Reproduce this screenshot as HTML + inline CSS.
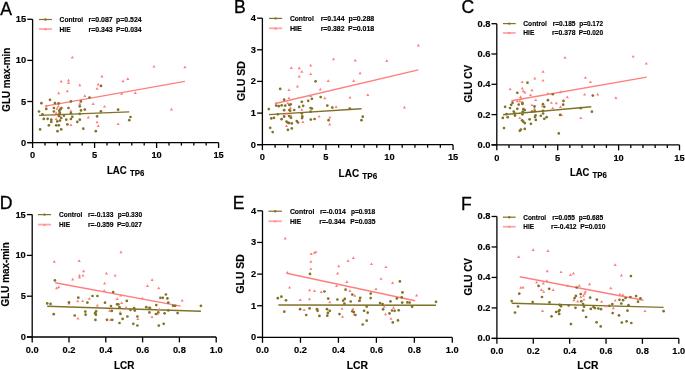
<!DOCTYPE html>
<html><head><meta charset="utf-8"><title>Scatter plots</title>
<style>
html,body{margin:0;padding:0;background:#fff;width:685px;height:369px;overflow:hidden}
svg{display:block;will-change:transform;filter:blur(0.35px)}
text{font-family:"Liberation Sans", sans-serif;fill:#000}
.b{font-weight:bold;stroke:#000;stroke-width:0.15px}
.r{font-weight:normal;stroke:#000;stroke-width:0.3px}
.ax{stroke:#000;stroke-width:1.3;fill:none}
circle{fill:#807227}
</style></head>
<body>
<svg width="685" height="369" viewBox="0 0 685 369">
<rect width="685" height="369" fill="#fff"/>
<g id="pA"><text x="0.2" y="14.6" font-size="17.6" class="r">A</text>
<path d="M32.6 19.3V142.6" class="ax"/>
<path d="M27.3 19.3H32.6" class="ax"/>
<text transform="translate(26.2 22.3) scale(0.95 1.0)" text-anchor="end" font-size="9.8" class="b">15</text>
<path d="M27.3 60.4H32.6" class="ax"/>
<text transform="translate(26.2 63.4) scale(0.95 1.0)" text-anchor="end" font-size="9.8" class="b">10</text>
<path d="M27.3 101.5H32.6" class="ax"/>
<text transform="translate(26.2 104.5) scale(0.95 1.0)" text-anchor="end" font-size="9.8" class="b">5</text>
<path d="M27.3 142.6H32.6" class="ax"/>
<text transform="translate(26.2 145.6) scale(0.95 1.0)" text-anchor="end" font-size="9.8" class="b">0</text>
<path d="M27.3 142.6H218.6" class="ax"/>
<path d="M32.6 142.6V148" class="ax"/>
<text transform="translate(32.6 158.2) scale(0.95 1.0)" text-anchor="middle" font-size="9.8" class="b">0</text>
<path d="M94.6 142.6V148" class="ax"/>
<text transform="translate(94.6 158.2) scale(0.95 1.0)" text-anchor="middle" font-size="9.8" class="b">5</text>
<path d="M156.6 142.6V148" class="ax"/>
<text transform="translate(156.6 158.2) scale(0.95 1.0)" text-anchor="middle" font-size="9.8" class="b">10</text>
<path d="M218.6 142.6V148" class="ax"/>
<text transform="translate(218.6 158.2) scale(0.95 1.0)" text-anchor="middle" font-size="9.8" class="b">15</text>
<path d="M45 142.6V145.6" class="ax"/>
<path d="M57.4 142.6V145.6" class="ax"/>
<path d="M69.8 142.6V145.6" class="ax"/>
<path d="M82.2 142.6V145.6" class="ax"/>
<path d="M107 142.6V145.6" class="ax"/>
<path d="M119.4 142.6V145.6" class="ax"/>
<path d="M131.8 142.6V145.6" class="ax"/>
<path d="M144.2 142.6V145.6" class="ax"/>
<path d="M169 142.6V145.6" class="ax"/>
<path d="M181.4 142.6V145.6" class="ax"/>
<path d="M193.8 142.6V145.6" class="ax"/>
<path d="M206.2 142.6V145.6" class="ax"/>
<text transform="translate(9.7 79.7) rotate(-90)" x="0" y="0" text-anchor="middle" font-size="10.6" class="b" textLength="64" lengthAdjust="spacingAndGlyphs">GLU max-min</text>
<text x="106.9" y="174.1" font-size="10.2" class="b" textLength="19.8" lengthAdjust="spacingAndGlyphs">LAC</text>
<text x="130" y="175.9" font-size="8.6" class="b" textLength="14.3" lengthAdjust="spacingAndGlyphs">TP6</text>
<path d="M39 19.5H51.9" stroke="#807227" stroke-width="1.2"/>
<circle cx="45.45" cy="19.5" r="1.2" fill="#807227"/>
<path d="M39 29H51.9" stroke="#ffa6ab" stroke-width="1.8"/>
<path d="M45.45 27.8L46.82 30.14L44.09 30.14Z" fill="#ff7f7f"/>
<text x="59.6" y="22.3" font-size="7.1" class="b" textLength="23.6" lengthAdjust="spacingAndGlyphs">Control</text>
<text x="88.5" y="22.3" font-size="7.1" class="b" textLength="24.2" lengthAdjust="spacingAndGlyphs">r=0.087</text>
<text x="116.1" y="22.3" font-size="7.1" class="b" textLength="25.5" lengthAdjust="spacingAndGlyphs">p=0.524</text>
<text x="59.6" y="31.5" font-size="7.1" class="b" textLength="11" lengthAdjust="spacingAndGlyphs">HIE</text>
<text x="88.5" y="31.5" font-size="7.1" class="b" textLength="24.2" lengthAdjust="spacingAndGlyphs">r=0.343</text>
<text x="116.1" y="31.5" font-size="7.1" class="b" textLength="25.5" lengthAdjust="spacingAndGlyphs">P=0.034</text>
<path d="M39.1 115.4L129.3 111.9" stroke="#807227" stroke-width="1.45"/>
<path d="M45.5 106.1L184.9 81.4" stroke="#ff7f7f" stroke-width="1.45"/>
<path d="M72.3 55.8L73.88 58.5L70.72 58.5ZM61.2 79.8L62.78 82.5L59.62 82.5ZM68.5 78.8L70.08 81.5L66.92 81.5ZM68.5 81.4L70.08 84.1L66.92 84.1ZM79.8 83.6L81.38 86.3L78.22 86.3ZM101.9 74.8L103.48 77.5L100.33 77.5ZM98.2 82.7L99.78 85.4L96.62 85.4ZM97.1 87.1L98.67 89.8L95.52 89.8ZM67.3 89.5L68.88 92.2L65.72 92.2ZM58.7 91.5L60.28 94.2L57.12 94.2ZM123 79.5L124.58 82.2L121.42 82.2ZM127.8 77.3L129.38 80L126.22 80ZM154 64.9L155.57 67.6L152.43 67.6ZM184.9 65.6L186.47 68.3L183.33 68.3ZM135.3 91.2L136.88 93.9L133.73 93.9ZM84.8 94.3L86.38 97L83.22 97ZM121.7 92.1L123.28 94.8L120.12 94.8ZM46.3 104.3L47.88 107L44.72 107ZM58.3 104.8L59.88 107.5L56.72 107.5ZM57 107L58.58 109.7L55.42 109.7ZM79.8 102.3L81.38 105L78.22 105ZM93.2 102.3L94.78 105L91.62 105ZM104.5 104.9L106.08 107.6L102.92 107.6ZM56.2 111.4L57.78 114.1L54.62 114.1ZM53.9 113.3L55.48 116L52.32 116ZM60.3 114.7L61.88 117.4L58.72 117.4ZM56.2 117.3L57.78 120L54.62 120ZM70.9 109.2L72.48 111.9L69.33 111.9ZM88.3 115.8L89.88 118.5L86.72 118.5ZM97.1 120.6L98.67 123.3L95.52 123.3ZM98.3 124.3L99.88 127L96.72 127ZM70.9 123.3L72.48 126L69.33 126ZM118.1 122.4L119.67 125.1L116.52 125.1ZM171.5 107.7L173.07 110.4L169.93 110.4Z" fill="#ff7f7f"/>
<circle cx="50" cy="99.8" r="1.35"/>
<circle cx="41.4" cy="103.2" r="1.35"/>
<circle cx="54.9" cy="103.1" r="1.35"/>
<circle cx="58.6" cy="103.4" r="1.35"/>
<circle cx="70.9" cy="101.4" r="1.35"/>
<circle cx="80.9" cy="101.4" r="1.35"/>
<circle cx="89.5" cy="97.5" r="1.35"/>
<circle cx="46.3" cy="108.9" r="1.35"/>
<circle cx="53.9" cy="108" r="1.35"/>
<circle cx="61.4" cy="108" r="1.35"/>
<circle cx="68.5" cy="108" r="1.35"/>
<circle cx="79.8" cy="106.3" r="1.35"/>
<circle cx="39" cy="111.5" r="1.35"/>
<circle cx="53.9" cy="111.5" r="1.35"/>
<circle cx="60.3" cy="109.3" r="1.35"/>
<circle cx="59.3" cy="110.8" r="1.35"/>
<circle cx="59.9" cy="112.6" r="1.35"/>
<circle cx="59.5" cy="114.1" r="1.35"/>
<circle cx="81" cy="110.4" r="1.35"/>
<circle cx="84.8" cy="109.6" r="1.35"/>
<circle cx="42.5" cy="114.3" r="1.35"/>
<circle cx="70.9" cy="113.2" r="1.35"/>
<circle cx="72.3" cy="116.8" r="1.35"/>
<circle cx="70.9" cy="119" r="1.35"/>
<circle cx="79.8" cy="113.8" r="1.35"/>
<circle cx="63.9" cy="115.7" r="1.35"/>
<circle cx="43.8" cy="118.9" r="1.35"/>
<circle cx="47.6" cy="118.8" r="1.35"/>
<circle cx="51.3" cy="119.7" r="1.35"/>
<circle cx="51.3" cy="121.9" r="1.35"/>
<circle cx="58.8" cy="116" r="1.35"/>
<circle cx="61.2" cy="118" r="1.35"/>
<circle cx="66.3" cy="119.7" r="1.35"/>
<circle cx="57.3" cy="121.4" r="1.35"/>
<circle cx="60" cy="120.6" r="1.35"/>
<circle cx="79.8" cy="119.7" r="1.35"/>
<circle cx="77.3" cy="121.9" r="1.35"/>
<circle cx="100.9" cy="111.4" r="1.35"/>
<circle cx="118.1" cy="109.7" r="1.35"/>
<circle cx="97.1" cy="116.3" r="1.35"/>
<circle cx="130.5" cy="117" r="1.35"/>
<circle cx="129.3" cy="120.2" r="1.35"/>
<circle cx="83.3" cy="128.7" r="1.35"/>
<circle cx="95.8" cy="131.2" r="1.35"/>
<circle cx="48.9" cy="125.3" r="1.35"/>
<circle cx="56.2" cy="125.3" r="1.35"/>
<circle cx="58.8" cy="125.3" r="1.35"/>
<circle cx="67.4" cy="124.4" r="1.35"/>
<circle cx="40.1" cy="129.4" r="1.35"/>
<circle cx="57.5" cy="131.2" r="1.35"/>
<circle cx="61.2" cy="129.4" r="1.35"/>
<circle cx="101" cy="85.9" r="1.35"/></g>
<g id="pB"><text x="233.9" y="13.2" font-size="17.6" class="r">B</text>
<path d="M262.4 18.2V144.7" class="ax"/>
<path d="M257.1 18.2H262.4" class="ax"/>
<text transform="translate(256 21.2) scale(0.95 1.0)" text-anchor="end" font-size="9.8" class="b">4</text>
<path d="M257.1 49.8H262.4" class="ax"/>
<text transform="translate(256 52.8) scale(0.95 1.0)" text-anchor="end" font-size="9.8" class="b">3</text>
<path d="M257.1 81.4H262.4" class="ax"/>
<text transform="translate(256 84.4) scale(0.95 1.0)" text-anchor="end" font-size="9.8" class="b">2</text>
<path d="M257.1 113.1H262.4" class="ax"/>
<text transform="translate(256 116.1) scale(0.95 1.0)" text-anchor="end" font-size="9.8" class="b">1</text>
<path d="M257.1 144.7H262.4" class="ax"/>
<text transform="translate(256 147.7) scale(0.95 1.0)" text-anchor="end" font-size="9.8" class="b">0</text>
<path d="M257.1 144.7H453.05" class="ax"/>
<path d="M262.4 144.7V150.1" class="ax"/>
<text transform="translate(262.4 160.3) scale(0.95 1.0)" text-anchor="middle" font-size="9.8" class="b">0</text>
<path d="M325.95 144.7V150.1" class="ax"/>
<text transform="translate(325.95 160.3) scale(0.95 1.0)" text-anchor="middle" font-size="9.8" class="b">5</text>
<path d="M389.5 144.7V150.1" class="ax"/>
<text transform="translate(389.5 160.3) scale(0.95 1.0)" text-anchor="middle" font-size="9.8" class="b">10</text>
<path d="M453.05 144.7V150.1" class="ax"/>
<text transform="translate(453.05 160.3) scale(0.95 1.0)" text-anchor="middle" font-size="9.8" class="b">15</text>
<path d="M275.11 144.7V147.7" class="ax"/>
<path d="M287.82 144.7V147.7" class="ax"/>
<path d="M300.53 144.7V147.7" class="ax"/>
<path d="M313.24 144.7V147.7" class="ax"/>
<path d="M338.66 144.7V147.7" class="ax"/>
<path d="M351.37 144.7V147.7" class="ax"/>
<path d="M364.08 144.7V147.7" class="ax"/>
<path d="M376.79 144.7V147.7" class="ax"/>
<path d="M402.21 144.7V147.7" class="ax"/>
<path d="M414.92 144.7V147.7" class="ax"/>
<path d="M427.63 144.7V147.7" class="ax"/>
<path d="M440.34 144.7V147.7" class="ax"/>
<text transform="translate(244.9 81) rotate(-90)" x="0" y="0" text-anchor="middle" font-size="10.6" class="b" textLength="39.8" lengthAdjust="spacingAndGlyphs">GLU SD</text>
<text x="338.6" y="177" font-size="10.2" class="b" textLength="20.5" lengthAdjust="spacingAndGlyphs">LAC</text>
<text x="362.3" y="178.7" font-size="8.6" class="b" textLength="14.9" lengthAdjust="spacingAndGlyphs">TP6</text>
<path d="M269 18.4H282.2" stroke="#807227" stroke-width="1.2"/>
<circle cx="275.6" cy="18.4" r="1.2" fill="#807227"/>
<path d="M269 28.3H282.2" stroke="#ffa6ab" stroke-width="1.8"/>
<path d="M275.6 27.1L276.97 29.44L274.24 29.44Z" fill="#ff7f7f"/>
<text x="289.9" y="21.2" font-size="7.1" class="b" textLength="23.9" lengthAdjust="spacingAndGlyphs">Control</text>
<text x="320.7" y="21.2" font-size="7.1" class="b" textLength="23.8" lengthAdjust="spacingAndGlyphs">r=0.144</text>
<text x="348.5" y="21.2" font-size="7.1" class="b" textLength="25.7" lengthAdjust="spacingAndGlyphs">p=0.288</text>
<text x="289.9" y="30.8" font-size="7.1" class="b" textLength="12" lengthAdjust="spacingAndGlyphs">HIE</text>
<text x="320.7" y="30.8" font-size="7.1" class="b" textLength="23.8" lengthAdjust="spacingAndGlyphs">r=0.382</text>
<text x="348" y="30.8" font-size="7.1" class="b" textLength="26.2" lengthAdjust="spacingAndGlyphs">P=0.018</text>
<path d="M269 114.6L361.6 108.7" stroke="#807227" stroke-width="1.45"/>
<path d="M276.5 103.3L418.4 69.9" stroke="#ff7f7f" stroke-width="1.45"/>
<path d="M418.4 43.7L419.97 46.4L416.82 46.4ZM333.5 57.5L335.07 60.2L331.93 60.2ZM355.2 58.7L356.77 61.4L353.62 61.4ZM386.8 59.3L388.38 62L385.23 62ZM291.3 66.3L292.88 69L289.73 69ZM299.2 66.6L300.77 69.3L297.62 69.3ZM301.9 70.1L303.47 72.8L300.32 72.8ZM310.7 63.7L312.27 66.4L309.12 66.4ZM310.7 72.4L312.27 75.1L309.12 75.1ZM299.2 74.8L300.77 77.5L297.62 77.5ZM360.1 71.6L361.68 74.3L358.53 74.3ZM328.2 79.2L329.77 81.9L326.62 81.9ZM353.7 79.2L355.27 81.9L352.12 81.9ZM297.5 84.7L299.07 87.4L295.93 87.4ZM289 88.3L290.57 91L287.43 91ZM320.3 87.7L321.88 90.4L318.73 90.4ZM367.8 93.2L369.38 95.9L366.23 95.9ZM350 95.9L351.57 98.6L348.43 98.6ZM324.85 96.5L326.43 99.2L323.28 99.2ZM404.4 105.8L405.97 108.5L402.82 108.5ZM336.1 105.2L337.68 107.9L334.53 107.9ZM329.85 115.85L331.43 118.55L328.28 118.55ZM329.7 122.8L331.27 125.5L328.12 125.5ZM319.2 114.9L320.77 117.6L317.62 117.6ZM302.9 120.4L304.47 123.1L301.32 123.1ZM286.5 124.3L288.07 127L284.93 127ZM289 96.6L290.57 99.3L287.43 99.3ZM276 101.5L277.57 104.2L274.43 104.2ZM287.8 101.5L289.38 104.2L286.23 104.2ZM290.5 106.3L292.07 109L288.93 109ZM301.8 108L303.38 110.7L300.23 110.7ZM310.6 94.4L312.18 97.1L309.03 97.1ZM286.7 112L288.27 114.7L285.12 114.7ZM283.9 113.7L285.47 116.4L282.32 116.4ZM290.9 114.1L292.47 116.8L289.32 116.8Z" fill="#ff7f7f"/>
<circle cx="284.1" cy="99.7" r="1.35"/>
<circle cx="320.7" cy="97.1" r="1.35"/>
<circle cx="311.9" cy="98.8" r="1.35"/>
<circle cx="308.2" cy="100.8" r="1.35"/>
<circle cx="301.8" cy="101.8" r="1.35"/>
<circle cx="276.2" cy="105.6" r="1.35"/>
<circle cx="278.8" cy="106.2" r="1.35"/>
<circle cx="281.7" cy="105.3" r="1.35"/>
<circle cx="285.2" cy="105.6" r="1.35"/>
<circle cx="289.3" cy="105" r="1.35"/>
<circle cx="290.7" cy="104.3" r="1.35"/>
<circle cx="303.2" cy="105.8" r="1.35"/>
<circle cx="299.2" cy="106.9" r="1.35"/>
<circle cx="268.8" cy="109.1" r="1.35"/>
<circle cx="284.1" cy="110.2" r="1.35"/>
<circle cx="289.3" cy="110" r="1.35"/>
<circle cx="290.2" cy="110.8" r="1.35"/>
<circle cx="294.2" cy="110" r="1.35"/>
<circle cx="310.6" cy="108" r="1.35"/>
<circle cx="311.9" cy="108.6" r="1.35"/>
<circle cx="310.6" cy="111.7" r="1.35"/>
<circle cx="301.8" cy="113.5" r="1.35"/>
<circle cx="277.8" cy="114.3" r="1.35"/>
<circle cx="271.3" cy="118.4" r="1.35"/>
<circle cx="274" cy="117.8" r="1.35"/>
<circle cx="281.6" cy="119.2" r="1.35"/>
<circle cx="284.2" cy="116.7" r="1.35"/>
<circle cx="289.1" cy="116.1" r="1.35"/>
<circle cx="291" cy="117.8" r="1.35"/>
<circle cx="286.5" cy="121.6" r="1.35"/>
<circle cx="287.9" cy="122.7" r="1.35"/>
<circle cx="289.1" cy="123.1" r="1.35"/>
<circle cx="291.8" cy="123.4" r="1.35"/>
<circle cx="296.8" cy="121.1" r="1.35"/>
<circle cx="298" cy="122.5" r="1.35"/>
<circle cx="302.3" cy="116.4" r="1.35"/>
<circle cx="302.05" cy="118.05" r="1.35"/>
<circle cx="310.8" cy="119.6" r="1.35"/>
<circle cx="314.6" cy="119" r="1.35"/>
<circle cx="328.6" cy="120.2" r="1.35"/>
<circle cx="270.2" cy="127.8" r="1.35"/>
<circle cx="272.7" cy="132.1" r="1.35"/>
<circle cx="287.9" cy="129.8" r="1.35"/>
<circle cx="291.8" cy="128.4" r="1.35"/>
<circle cx="327.3" cy="105.6" r="1.35"/>
<circle cx="332.3" cy="107.6" r="1.35"/>
<circle cx="349.8" cy="108.6" r="1.35"/>
<circle cx="362.8" cy="116.7" r="1.35"/>
<circle cx="361.5" cy="120.2" r="1.35"/>
<circle cx="315.6" cy="81.3" r="1.35"/>
<circle cx="280.2" cy="88.9" r="1.35"/></g>
<g id="pC"><text x="461.4" y="12.9" font-size="17.6" class="r">C</text>
<path d="M496.8 23.7V144.9" class="ax"/>
<path d="M491.5 23.7H496.8" class="ax"/>
<text transform="translate(490.4 26.7) scale(0.95 1.0)" text-anchor="end" font-size="9.8" class="b">0.8</text>
<path d="M491.5 54H496.8" class="ax"/>
<text transform="translate(490.4 57) scale(0.95 1.0)" text-anchor="end" font-size="9.8" class="b">0.6</text>
<path d="M491.5 84.3H496.8" class="ax"/>
<text transform="translate(490.4 87.3) scale(0.95 1.0)" text-anchor="end" font-size="9.8" class="b">0.4</text>
<path d="M491.5 114.6H496.8" class="ax"/>
<text transform="translate(490.4 117.6) scale(0.95 1.0)" text-anchor="end" font-size="9.8" class="b">0.2</text>
<path d="M491.5 144.9H496.8" class="ax"/>
<text transform="translate(490.4 147.9) scale(0.95 1.0)" text-anchor="end" font-size="9.8" class="b">0.0</text>
<path d="M491.5 144.9H679.5" class="ax"/>
<path d="M496.8 144.9V150.3" class="ax"/>
<text transform="translate(496.8 160.5) scale(0.95 1.0)" text-anchor="middle" font-size="9.8" class="b">0</text>
<path d="M557.7 144.9V150.3" class="ax"/>
<text transform="translate(557.7 160.5) scale(0.95 1.0)" text-anchor="middle" font-size="9.8" class="b">5</text>
<path d="M618.6 144.9V150.3" class="ax"/>
<text transform="translate(618.6 160.5) scale(0.95 1.0)" text-anchor="middle" font-size="9.8" class="b">10</text>
<path d="M679.5 144.9V150.3" class="ax"/>
<text transform="translate(679.5 160.5) scale(0.95 1.0)" text-anchor="middle" font-size="9.8" class="b">15</text>
<path d="M508.98 144.9V147.9" class="ax"/>
<path d="M521.16 144.9V147.9" class="ax"/>
<path d="M533.34 144.9V147.9" class="ax"/>
<path d="M545.52 144.9V147.9" class="ax"/>
<path d="M569.88 144.9V147.9" class="ax"/>
<path d="M582.06 144.9V147.9" class="ax"/>
<path d="M594.24 144.9V147.9" class="ax"/>
<path d="M606.42 144.9V147.9" class="ax"/>
<path d="M630.78 144.9V147.9" class="ax"/>
<path d="M642.96 144.9V147.9" class="ax"/>
<path d="M655.14 144.9V147.9" class="ax"/>
<path d="M667.32 144.9V147.9" class="ax"/>
<text transform="translate(472.2 83.7) rotate(-90)" x="0" y="0" text-anchor="middle" font-size="10.6" class="b" textLength="37.4" lengthAdjust="spacingAndGlyphs">GLU CV</text>
<text x="569.9" y="176" font-size="10.2" class="b" textLength="19.4" lengthAdjust="spacingAndGlyphs">LAC</text>
<text x="592.6" y="177.9" font-size="8.6" class="b" textLength="14.3" lengthAdjust="spacingAndGlyphs">TP6</text>
<path d="M502.9 23.6H515.7" stroke="#807227" stroke-width="1.2"/>
<circle cx="509.3" cy="23.6" r="1.2" fill="#807227"/>
<path d="M502.9 32.9H515.7" stroke="#ffa6ab" stroke-width="1.8"/>
<path d="M509.3 31.7L510.67 34.04L507.94 34.04Z" fill="#ff7f7f"/>
<text x="523.3" y="26.4" font-size="7.1" class="b" textLength="23.6" lengthAdjust="spacingAndGlyphs">Control</text>
<text x="552.7" y="26.4" font-size="7.1" class="b" textLength="22.8" lengthAdjust="spacingAndGlyphs">r=0.185</text>
<text x="579.2" y="26.4" font-size="7.1" class="b" textLength="23.9" lengthAdjust="spacingAndGlyphs">p=0.172</text>
<text x="523.3" y="35.4" font-size="7.1" class="b" textLength="11" lengthAdjust="spacingAndGlyphs">HIE</text>
<text x="551.9" y="35.4" font-size="7.1" class="b" textLength="23.6" lengthAdjust="spacingAndGlyphs">r=0.378</text>
<text x="578.7" y="35.4" font-size="7.1" class="b" textLength="24.4" lengthAdjust="spacingAndGlyphs">P=0.020</text>
<path d="M503.1 114.7L591.3 106.7" stroke="#807227" stroke-width="1.45"/>
<path d="M511.4 100.8L646.8 77.1" stroke="#ff7f7f" stroke-width="1.45"/>
<path d="M565 56L566.58 58.7L563.42 58.7ZM633.2 54.9L634.78 57.6L631.62 57.6ZM646.3 61.9L647.88 64.6L644.72 64.6ZM543 70.1L544.58 72.8L541.42 72.8ZM543 78.9L544.58 81.6L541.42 81.6ZM534.8 76.8L536.38 79.5L533.22 79.5ZM522.2 80.4L523.78 83.1L520.62 83.1ZM510.15 87.45L511.72 90.15L508.57 90.15ZM522.3 86.85L523.88 89.55L520.72 89.55ZM524.95 90.75L526.53 93.45L523.38 93.45ZM531.95 88.45L533.53 91.15L530.38 91.15ZM585.4 76L586.98 78.7L583.82 78.7ZM590.4 80.4L591.98 83.1L588.82 83.1ZM584.6 92.9L586.18 95.6L583.02 95.6ZM597.7 92.7L599.28 95.4L596.12 95.4ZM615.9 96.2L617.48 98.9L614.32 98.9ZM567.3 95.6L568.88 98.3L565.72 98.3ZM560.5 90.6L562.08 93.3L558.92 93.3ZM547.75 91.95L549.33 94.65L546.17 94.65ZM530.55 93.4L532.12 96.1L528.97 96.1ZM535.75 98.4L537.33 101.1L534.17 101.1ZM551.35 101.15L552.93 103.85L549.77 103.85ZM556.25 101.5L557.83 104.2L554.67 104.2ZM552.75 106.6L554.33 109.3L551.17 109.3ZM560.5 105.2L562.08 107.9L558.92 107.9ZM561.45 113.4L563.03 116.1L559.88 116.1ZM580.8 116.4L582.38 119.1L579.22 119.1ZM519.8 116.4L521.38 119.1L518.22 119.1ZM531.95 103.4L533.53 106.1L530.38 106.1ZM523.3 89.6L524.88 92.3L521.72 92.3ZM520.6 95.3L522.18 98L519.02 98ZM521.1 97L522.68 99.7L519.52 99.7ZM517.3 99.6L518.88 102.3L515.72 102.3ZM519.9 99.6L521.48 102.3L518.32 102.3ZM534.5 107.1L536.08 109.8L532.92 109.8ZM542.5 104.5L544.08 107.2L540.92 107.2Z" fill="#ff7f7f"/>
<circle cx="527.5" cy="82.7" r="1.35"/>
<circle cx="552.75" cy="94.25" r="1.35"/>
<circle cx="547.9" cy="100.2" r="1.35"/>
<circle cx="563.5" cy="100.9" r="1.35"/>
<circle cx="592.8" cy="95.6" r="1.35"/>
<circle cx="563.2" cy="104.7" r="1.35"/>
<circle cx="580.8" cy="108.2" r="1.35"/>
<circle cx="591.9" cy="111.7" r="1.35"/>
<circle cx="558.8" cy="133.4" r="1.35"/>
<circle cx="504" cy="128.1" r="1.35"/>
<circle cx="517.3" cy="92.8" r="1.35"/>
<circle cx="512.6" cy="102.7" r="1.35"/>
<circle cx="511.2" cy="104.8" r="1.35"/>
<circle cx="505.1" cy="106.8" r="1.35"/>
<circle cx="510" cy="108" r="1.35"/>
<circle cx="518.7" cy="104.6" r="1.35"/>
<circle cx="522.4" cy="102.9" r="1.35"/>
<circle cx="522.4" cy="103.9" r="1.35"/>
<circle cx="517.3" cy="108.8" r="1.35"/>
<circle cx="523.3" cy="109" r="1.35"/>
<circle cx="524.8" cy="110.1" r="1.35"/>
<circle cx="534.5" cy="106.4" r="1.35"/>
<circle cx="543" cy="104.2" r="1.35"/>
<circle cx="544.3" cy="106.8" r="1.35"/>
<circle cx="513.8" cy="111.6" r="1.35"/>
<circle cx="515" cy="115.6" r="1.35"/>
<circle cx="522.8" cy="111.6" r="1.35"/>
<circle cx="522.4" cy="114.3" r="1.35"/>
<circle cx="506.5" cy="114.1" r="1.35"/>
<circle cx="502.8" cy="117.9" r="1.35"/>
<circle cx="507.7" cy="117.2" r="1.35"/>
<circle cx="534.7" cy="111.2" r="1.35"/>
<circle cx="535.5" cy="115.3" r="1.35"/>
<circle cx="535" cy="117" r="1.35"/>
<circle cx="535.8" cy="119.9" r="1.35"/>
<circle cx="543" cy="110.9" r="1.35"/>
<circle cx="543.1" cy="113.5" r="1.35"/>
<circle cx="540.8" cy="115.8" r="1.35"/>
<circle cx="544.3" cy="118.8" r="1.35"/>
<circle cx="546.6" cy="117.2" r="1.35"/>
<circle cx="529.6" cy="119.3" r="1.35"/>
<circle cx="532" cy="111.6" r="1.35"/>
<circle cx="514.6" cy="113.4" r="1.35"/>
<circle cx="522.1" cy="120.3" r="1.35"/>
<circle cx="523.3" cy="121.7" r="1.35"/>
<circle cx="524.8" cy="123.1" r="1.35"/>
<circle cx="530.9" cy="123.8" r="1.35"/>
<circle cx="560.1" cy="114.9" r="1.35"/>
<circle cx="519.8" cy="130.8" r="1.35"/>
<circle cx="520.9" cy="129.6" r="1.35"/>
<circle cx="524.8" cy="128.9" r="1.35"/></g>
<g id="pD"><text x="-0.2" y="208.9" font-size="17.6" class="r">D</text>
<path d="M32.2 214.6V337" class="ax"/>
<path d="M26.9 214.6H32.2" class="ax"/>
<text transform="translate(25.8 217.6) scale(0.95 1.0)" text-anchor="end" font-size="9.8" class="b">15</text>
<path d="M26.9 255.4H32.2" class="ax"/>
<text transform="translate(25.8 258.4) scale(0.95 1.0)" text-anchor="end" font-size="9.8" class="b">10</text>
<path d="M26.9 296.2H32.2" class="ax"/>
<text transform="translate(25.8 299.2) scale(0.95 1.0)" text-anchor="end" font-size="9.8" class="b">5</text>
<path d="M26.9 337H32.2" class="ax"/>
<text transform="translate(25.8 340) scale(0.95 1.0)" text-anchor="end" font-size="9.8" class="b">0</text>
<path d="M26.9 337H216.2" class="ax"/>
<path d="M32.2 337V342.4" class="ax"/>
<text transform="translate(32.2 352.6) scale(0.95 1.0)" text-anchor="middle" font-size="9.8" class="b">0.0</text>
<path d="M69 337V342.4" class="ax"/>
<text transform="translate(69 352.6) scale(0.95 1.0)" text-anchor="middle" font-size="9.8" class="b">0.2</text>
<path d="M105.8 337V342.4" class="ax"/>
<text transform="translate(105.8 352.6) scale(0.95 1.0)" text-anchor="middle" font-size="9.8" class="b">0.4</text>
<path d="M142.6 337V342.4" class="ax"/>
<text transform="translate(142.6 352.6) scale(0.95 1.0)" text-anchor="middle" font-size="9.8" class="b">0.6</text>
<path d="M179.4 337V342.4" class="ax"/>
<text transform="translate(179.4 352.6) scale(0.95 1.0)" text-anchor="middle" font-size="9.8" class="b">0.8</text>
<path d="M216.2 337V342.4" class="ax"/>
<text transform="translate(216.2 352.6) scale(0.95 1.0)" text-anchor="middle" font-size="9.8" class="b">1.0</text>
<text transform="translate(8.9 274.3) rotate(-90)" x="0" y="0" text-anchor="middle" font-size="10.6" class="b" textLength="64.3" lengthAdjust="spacingAndGlyphs">GLU max-min</text>
<text x="114" y="368.5" font-size="10.2" class="b" textLength="20.4" lengthAdjust="spacingAndGlyphs">LCR</text>
<path d="M37.9 214.6H51.1" stroke="#807227" stroke-width="1.2"/>
<circle cx="44.5" cy="214.6" r="1.2" fill="#807227"/>
<path d="M37.9 224.6H51.1" stroke="#ffa6ab" stroke-width="1.8"/>
<path d="M44.5 223.4L45.87 225.74L43.13 225.74Z" fill="#ff7f7f"/>
<text x="59.1" y="217.4" font-size="7.1" class="b" textLength="23.3" lengthAdjust="spacingAndGlyphs">Control</text>
<text x="88" y="217.4" font-size="7.1" class="b" textLength="25.5" lengthAdjust="spacingAndGlyphs">r=-0.133</text>
<text x="117.7" y="217.4" font-size="7.1" class="b" textLength="24.4" lengthAdjust="spacingAndGlyphs">p=0.330</text>
<text x="59.1" y="227.1" font-size="7.1" class="b" textLength="11" lengthAdjust="spacingAndGlyphs">HIE</text>
<text x="88" y="227.1" font-size="7.1" class="b" textLength="25.5" lengthAdjust="spacingAndGlyphs">r=-0.359</text>
<text x="116.9" y="227.1" font-size="7.1" class="b" textLength="25.2" lengthAdjust="spacingAndGlyphs">P=0.027</text>
<path d="M47.2 306.3L200.9 311.3" stroke="#807227" stroke-width="1.45"/>
<path d="M55.2 282.7L180.6 306.1" stroke="#ff7f7f" stroke-width="1.45"/>
<path d="M121 250.5L122.58 253.2L119.42 253.2ZM54.3 260.1L55.88 262.8L52.72 262.8ZM79.2 259.2L80.78 261.9L77.62 261.9ZM83.6 269.5L85.17 272.2L82.02 272.2ZM79.5 273.9L81.08 276.6L77.92 276.6ZM79.5 275.9L81.08 278.6L77.92 278.6ZM83 273.9L84.58 276.6L81.42 276.6ZM72.7 277.7L74.28 280.4L71.12 280.4ZM106.4 271.8L107.98 274.5L104.83 274.5ZM115.2 273.9L116.78 276.6L113.62 276.6ZM104.6 281.8L106.17 284.5L103.02 284.5ZM152.1 278.3L153.68 281L150.53 281ZM147.5 284.3L149.07 287L145.93 287ZM158.7 286.45L160.27 289.15L157.12 289.15ZM56.6 286.5L58.18 289.2L55.02 289.2ZM58.7 285.6L60.28 288.3L57.12 288.3ZM104.2 289.05L105.77 291.75L102.62 291.75ZM182.2 298.9L183.77 301.6L180.62 301.6ZM142.4 296.7L143.97 299.4L140.83 299.4ZM77.65 299.5L79.23 302.2L76.08 302.2ZM82.7 299.4L84.28 302.1L81.12 302.1ZM89.3 297L90.88 299.7L87.73 299.7ZM97.35 303.85L98.92 306.55L95.77 306.55ZM117.15 297.25L118.73 299.95L115.58 299.95ZM121.65 301.3L123.23 304L120.08 304ZM126.1 305.8L127.67 308.5L124.52 308.5ZM109.7 309.05L111.28 311.75L108.12 311.75ZM110.6 318.35L112.17 321.05L109.02 321.05ZM120.15 310.7L121.73 313.4L118.58 313.4ZM137.85 317.4L139.42 320.1L136.28 320.1ZM152.02 315.4L153.6 318.1L150.45 318.1ZM159.48 307.55L161.05 310.25L157.9 310.25ZM78 316.85L79.58 319.55L76.42 319.55ZM68.9 301.7L70.48 304.4L67.33 304.4ZM120.7 293.9L122.28 296.6L119.12 296.6ZM150.4 306.1L151.97 308.8L148.83 308.8ZM157.3 312.4L158.88 315.1L155.73 315.1Z" fill="#ff7f7f"/>
<circle cx="54.9" cy="280.4" r="1.35"/>
<circle cx="47.2" cy="303.4" r="1.35"/>
<circle cx="50.6" cy="303.9" r="1.35"/>
<circle cx="53.7" cy="314.2" r="1.35"/>
<circle cx="69" cy="302.4" r="1.35"/>
<circle cx="78.3" cy="297.7" r="1.35"/>
<circle cx="87.4" cy="302.6" r="1.35"/>
<circle cx="92.5" cy="296" r="1.35"/>
<circle cx="97.4" cy="296" r="1.35"/>
<circle cx="105" cy="302.65" r="1.35"/>
<circle cx="74.7" cy="315.5" r="1.35"/>
<circle cx="85.3" cy="311.6" r="1.35"/>
<circle cx="85.6" cy="314.7" r="1.35"/>
<circle cx="96.1" cy="311.4" r="1.35"/>
<circle cx="95.1" cy="313.2" r="1.35"/>
<circle cx="95.9" cy="314.7" r="1.35"/>
<circle cx="95.4" cy="319.9" r="1.35"/>
<circle cx="107" cy="319.85" r="1.35"/>
<circle cx="113.2" cy="292.1" r="1.35"/>
<circle cx="126.8" cy="300.9" r="1.35"/>
<circle cx="117.1" cy="304.3" r="1.35"/>
<circle cx="118.3" cy="304.3" r="1.35"/>
<circle cx="111" cy="306" r="1.35"/>
<circle cx="119.5" cy="307.2" r="1.35"/>
<circle cx="111.8" cy="310.9" r="1.35"/>
<circle cx="130.5" cy="310" r="1.35"/>
<circle cx="134.1" cy="308.2" r="1.35"/>
<circle cx="134.8" cy="310.6" r="1.35"/>
<circle cx="120.5" cy="314" r="1.35"/>
<circle cx="127.4" cy="316.5" r="1.35"/>
<circle cx="122.6" cy="318.9" r="1.35"/>
<circle cx="112.2" cy="319.8" r="1.35"/>
<circle cx="119.5" cy="323" r="1.35"/>
<circle cx="137.4" cy="316.5" r="1.35"/>
<circle cx="133.3" cy="323.8" r="1.35"/>
<circle cx="137.4" cy="325.5" r="1.35"/>
<circle cx="146.3" cy="307.2" r="1.35"/>
<circle cx="149.4" cy="307.9" r="1.35"/>
<circle cx="149.4" cy="312.4" r="1.35"/>
<circle cx="156.3" cy="305.1" r="1.35"/>
<circle cx="155.9" cy="314" r="1.35"/>
<circle cx="158.3" cy="312.4" r="1.35"/>
<circle cx="158.8" cy="325.6" r="1.35"/>
<circle cx="163.7" cy="323.8" r="1.35"/>
<circle cx="164.6" cy="313.3" r="1.35"/>
<circle cx="165.9" cy="294.5" r="1.35"/>
<circle cx="160.4" cy="297.8" r="1.35"/>
<circle cx="162.8" cy="297.8" r="1.35"/>
<circle cx="167.4" cy="298.4" r="1.35"/>
<circle cx="168.3" cy="302.7" r="1.35"/>
<circle cx="168.3" cy="310.4" r="1.35"/>
<circle cx="173.1" cy="305.8" r="1.35"/>
<circle cx="175.2" cy="305.8" r="1.35"/>
<circle cx="200.9" cy="305.8" r="1.35"/>
<circle cx="177.6" cy="313.1" r="1.35"/></g>
<g id="pE"><text x="232.8" y="208.6" font-size="17.6" class="r">E</text>
<path d="M262.5 210.8V337.4" class="ax"/>
<path d="M257.2 210.8H262.5" class="ax"/>
<text transform="translate(256.1 213.8) scale(0.95 1.0)" text-anchor="end" font-size="9.8" class="b">4</text>
<path d="M257.2 242.45H262.5" class="ax"/>
<text transform="translate(256.1 245.45) scale(0.95 1.0)" text-anchor="end" font-size="9.8" class="b">3</text>
<path d="M257.2 274.1H262.5" class="ax"/>
<text transform="translate(256.1 277.1) scale(0.95 1.0)" text-anchor="end" font-size="9.8" class="b">2</text>
<path d="M257.2 305.75H262.5" class="ax"/>
<text transform="translate(256.1 308.75) scale(0.95 1.0)" text-anchor="end" font-size="9.8" class="b">1</text>
<path d="M257.2 337.4H262.5" class="ax"/>
<text transform="translate(256.1 340.4) scale(0.95 1.0)" text-anchor="end" font-size="9.8" class="b">0</text>
<path d="M257.2 337.4H452.3" class="ax"/>
<path d="M262.5 337.4V342.8" class="ax"/>
<text transform="translate(262.5 353) scale(0.95 1.0)" text-anchor="middle" font-size="9.8" class="b">0.0</text>
<path d="M300.46 337.4V342.8" class="ax"/>
<text transform="translate(300.46 353) scale(0.95 1.0)" text-anchor="middle" font-size="9.8" class="b">0.2</text>
<path d="M338.42 337.4V342.8" class="ax"/>
<text transform="translate(338.42 353) scale(0.95 1.0)" text-anchor="middle" font-size="9.8" class="b">0.4</text>
<path d="M376.38 337.4V342.8" class="ax"/>
<text transform="translate(376.38 353) scale(0.95 1.0)" text-anchor="middle" font-size="9.8" class="b">0.6</text>
<path d="M414.34 337.4V342.8" class="ax"/>
<text transform="translate(414.34 353) scale(0.95 1.0)" text-anchor="middle" font-size="9.8" class="b">0.8</text>
<path d="M452.3 337.4V342.8" class="ax"/>
<text transform="translate(452.3 353) scale(0.95 1.0)" text-anchor="middle" font-size="9.8" class="b">1.0</text>
<text transform="translate(244.3 273.9) rotate(-90)" x="0" y="0" text-anchor="middle" font-size="10.6" class="b" textLength="39.2" lengthAdjust="spacingAndGlyphs">GLU SD</text>
<text x="346.7" y="368.8" font-size="10.2" class="b" textLength="21.4" lengthAdjust="spacingAndGlyphs">LCR</text>
<path d="M268.5 211.2H281.9" stroke="#807227" stroke-width="1.2"/>
<circle cx="275.2" cy="211.2" r="1.2" fill="#807227"/>
<path d="M268.5 221.2H281.9" stroke="#ffa6ab" stroke-width="1.8"/>
<path d="M275.2 220L276.56 222.34L273.83 222.34Z" fill="#ff7f7f"/>
<text x="289.9" y="214" font-size="7.1" class="b" textLength="24.4" lengthAdjust="spacingAndGlyphs">Control</text>
<text x="319.9" y="214" font-size="7.1" class="b" textLength="26" lengthAdjust="spacingAndGlyphs">r=-0.014</text>
<text x="350.9" y="214" font-size="7.1" class="b" textLength="24.2" lengthAdjust="spacingAndGlyphs">p=0.918</text>
<text x="289.9" y="223.7" font-size="7.1" class="b" textLength="11.3" lengthAdjust="spacingAndGlyphs">HIE</text>
<text x="319.3" y="223.7" font-size="7.1" class="b" textLength="26" lengthAdjust="spacingAndGlyphs">r=-0.344</text>
<text x="350.3" y="223.7" font-size="7.1" class="b" textLength="25.2" lengthAdjust="spacingAndGlyphs">P=0.035</text>
<path d="M278.4 304.9L436 305.3" stroke="#807227" stroke-width="1.45"/>
<path d="M286.6 273.3L415.1 300.8" stroke="#ff7f7f" stroke-width="1.45"/>
<path d="M285.2 236.7L286.77 239.4L283.62 239.4ZM311.2 252.2L312.77 254.9L309.62 254.9ZM314.4 251L315.97 253.7L312.82 253.7ZM315.9 250.4L317.47 253.1L314.32 253.1ZM310.9 260.1L312.47 262.8L309.32 262.8ZM310.9 267.4L312.47 270.1L309.32 270.1ZM338.7 264.5L340.27 267.2L337.12 267.2ZM348.1 259.2L349.68 261.9L346.53 261.9ZM353.4 256.3L354.97 259L351.82 259ZM371.5 262.4L373.07 265.1L369.93 265.1ZM385.9 265.4L387.47 268.1L384.32 268.1ZM337.6 271.8L339.18 274.5L336.03 274.5ZM381.1 277.15L382.68 279.85L379.53 279.85ZM392.55 281.2L394.12 283.9L390.98 283.9ZM346.9 280.3L348.47 283L345.32 283ZM289.6 285.9L291.18 288.6L288.03 288.6ZM336.55 284.3L338.12 287L334.97 287ZM376 287.2L377.57 289.9L374.43 289.9ZM416.6 293.8L418.18 296.5L415.03 296.5ZM300.25 298.25L301.82 300.95L298.68 300.95ZM329.75 300.45L331.32 303.15L328.18 303.15ZM287.3 270.9L288.88 273.6L285.73 273.6ZM304.15 308.25L305.72 310.95L302.57 310.95ZM309.6 288.5L311.18 291.2L308.03 291.2ZM314.5 289.2L316.07 291.9L312.93 291.9ZM321.2 290.4L322.77 293.1L319.62 293.1ZM349.9 289.2L351.47 291.9L348.32 291.9ZM354.8 294.1L356.38 296.8L353.23 296.8ZM309.4 297.6L310.97 300.3L307.82 300.3ZM359 299.2L360.57 301.9L357.43 301.9ZM342 307.1L343.57 309.8L340.43 309.8ZM352.9 307.4L354.47 310.1L351.32 310.1ZM342.6 315L344.18 317.7L341.03 317.7ZM354.1 312.6L355.68 315.3L352.53 315.3ZM384.1 305.1L385.68 307.8L382.53 307.8ZM393.5 306L395.07 308.7L391.93 308.7ZM385.6 312.5L387.18 315.2L384.03 315.2ZM391 317L392.57 319.7L389.43 319.7Z" fill="#ff7f7f"/>
<circle cx="310" cy="273.9" r="1.35"/>
<circle cx="277.8" cy="298.2" r="1.35"/>
<circle cx="281.4" cy="296.7" r="1.35"/>
<circle cx="286" cy="300.3" r="1.35"/>
<circle cx="284.3" cy="311.7" r="1.35"/>
<circle cx="324.5" cy="291.5" r="1.35"/>
<circle cx="345.6" cy="289.7" r="1.35"/>
<circle cx="352.3" cy="294.6" r="1.35"/>
<circle cx="360.2" cy="297.9" r="1.35"/>
<circle cx="359.6" cy="300.7" r="1.35"/>
<circle cx="328.2" cy="298.6" r="1.35"/>
<circle cx="337.4" cy="299.5" r="1.35"/>
<circle cx="343.2" cy="300.7" r="1.35"/>
<circle cx="344.8" cy="298.9" r="1.35"/>
<circle cx="344.4" cy="303.7" r="1.35"/>
<circle cx="350.7" cy="301.5" r="1.35"/>
<circle cx="300.1" cy="309.2" r="1.35"/>
<circle cx="309.6" cy="308.4" r="1.35"/>
<circle cx="317" cy="309.2" r="1.35"/>
<circle cx="317.6" cy="310.8" r="1.35"/>
<circle cx="327" cy="309.2" r="1.35"/>
<circle cx="329.8" cy="310.8" r="1.35"/>
<circle cx="327.9" cy="312.9" r="1.35"/>
<circle cx="327.3" cy="315.7" r="1.35"/>
<circle cx="319.4" cy="315.9" r="1.35"/>
<circle cx="306.2" cy="315" r="1.35"/>
<circle cx="339.5" cy="314.1" r="1.35"/>
<circle cx="352.3" cy="311.3" r="1.35"/>
<circle cx="353.8" cy="312" r="1.35"/>
<circle cx="355.4" cy="315" r="1.35"/>
<circle cx="364.05" cy="310.8" r="1.35"/>
<circle cx="362.7" cy="324.5" r="1.35"/>
<circle cx="399.9" cy="281.4" r="1.35"/>
<circle cx="402.5" cy="292.4" r="1.35"/>
<circle cx="370.7" cy="293.6" r="1.35"/>
<circle cx="370.7" cy="298.1" r="1.35"/>
<circle cx="396.9" cy="298.4" r="1.35"/>
<circle cx="401.7" cy="297.3" r="1.35"/>
<circle cx="390.5" cy="301.4" r="1.35"/>
<circle cx="380.1" cy="303" r="1.35"/>
<circle cx="382.6" cy="304.1" r="1.35"/>
<circle cx="402.2" cy="302.6" r="1.35"/>
<circle cx="407.4" cy="302.4" r="1.35"/>
<circle cx="409.6" cy="302.6" r="1.35"/>
<circle cx="436" cy="301.8" r="1.35"/>
<circle cx="366.7" cy="306.6" r="1.35"/>
<circle cx="412.1" cy="306.7" r="1.35"/>
<circle cx="367.7" cy="312.7" r="1.35"/>
<circle cx="383.1" cy="309.3" r="1.35"/>
<circle cx="392" cy="310.5" r="1.35"/>
<circle cx="394.6" cy="310.8" r="1.35"/>
<circle cx="398.7" cy="310.3" r="1.35"/>
<circle cx="389.5" cy="313.4" r="1.35"/>
<circle cx="366.7" cy="320.7" r="1.35"/>
<circle cx="392.8" cy="322.4" r="1.35"/>
<circle cx="398" cy="320.4" r="1.35"/></g>
<g id="pF"><text x="461" y="209.6" font-size="17.6" class="r">F</text>
<path d="M496.9 216.48V338.4" class="ax"/>
<path d="M491.6 216.48H496.9" class="ax"/>
<text transform="translate(490.5 219.48) scale(0.95 1.0)" text-anchor="end" font-size="9.8" class="b">0.8</text>
<path d="M491.6 246.96H496.9" class="ax"/>
<text transform="translate(490.5 249.96) scale(0.95 1.0)" text-anchor="end" font-size="9.8" class="b">0.6</text>
<path d="M491.6 277.44H496.9" class="ax"/>
<text transform="translate(490.5 280.44) scale(0.95 1.0)" text-anchor="end" font-size="9.8" class="b">0.4</text>
<path d="M491.6 307.92H496.9" class="ax"/>
<text transform="translate(490.5 310.92) scale(0.95 1.0)" text-anchor="end" font-size="9.8" class="b">0.2</text>
<path d="M491.6 338.4H496.9" class="ax"/>
<text transform="translate(490.5 341.4) scale(0.95 1.0)" text-anchor="end" font-size="9.8" class="b">0.0</text>
<path d="M491.6 338.4H678.8" class="ax"/>
<path d="M496.9 338.4V343.8" class="ax"/>
<text transform="translate(496.9 354) scale(0.95 1.0)" text-anchor="middle" font-size="9.8" class="b">0.0</text>
<path d="M533.28 338.4V343.8" class="ax"/>
<text transform="translate(533.28 354) scale(0.95 1.0)" text-anchor="middle" font-size="9.8" class="b">0.2</text>
<path d="M569.66 338.4V343.8" class="ax"/>
<text transform="translate(569.66 354) scale(0.95 1.0)" text-anchor="middle" font-size="9.8" class="b">0.4</text>
<path d="M606.04 338.4V343.8" class="ax"/>
<text transform="translate(606.04 354) scale(0.95 1.0)" text-anchor="middle" font-size="9.8" class="b">0.6</text>
<path d="M642.42 338.4V343.8" class="ax"/>
<text transform="translate(642.42 354) scale(0.95 1.0)" text-anchor="middle" font-size="9.8" class="b">0.8</text>
<path d="M678.8 338.4V343.8" class="ax"/>
<text transform="translate(678.8 354) scale(0.95 1.0)" text-anchor="middle" font-size="9.8" class="b">1.0</text>
<text transform="translate(472.2 276.8) rotate(-90)" x="0" y="0" text-anchor="middle" font-size="10.6" class="b" textLength="37.6" lengthAdjust="spacingAndGlyphs">GLU CV</text>
<text x="577.2" y="368.5" font-size="10.2" class="b" textLength="21.2" lengthAdjust="spacingAndGlyphs">LCR</text>
<path d="M502.9 217.2H515.7" stroke="#807227" stroke-width="1.2"/>
<circle cx="509.3" cy="217.2" r="1.2" fill="#807227"/>
<path d="M502.9 226.7H515.7" stroke="#ffa6ab" stroke-width="1.8"/>
<path d="M509.3 225.5L510.67 227.84L507.94 227.84Z" fill="#ff7f7f"/>
<text x="523.3" y="220" font-size="7.1" class="b" textLength="22.8" lengthAdjust="spacingAndGlyphs">Control</text>
<text x="552.2" y="220" font-size="7.1" class="b" textLength="22.8" lengthAdjust="spacingAndGlyphs">r=0.055</text>
<text x="578.7" y="220" font-size="7.1" class="b" textLength="24.4" lengthAdjust="spacingAndGlyphs">p=0.685</text>
<text x="523.3" y="229.2" font-size="7.1" class="b" textLength="10.7" lengthAdjust="spacingAndGlyphs">HIE</text>
<text x="551.1" y="229.2" font-size="7.1" class="b" textLength="25.5" lengthAdjust="spacingAndGlyphs">r=-0.412</text>
<text x="580.3" y="229.2" font-size="7.1" class="b" textLength="25.2" lengthAdjust="spacingAndGlyphs">P=0.010</text>
<path d="M511.7 303.2L663.6 307.4" stroke="#807227" stroke-width="1.45"/>
<path d="M519.7 276.8L643.6 300.3" stroke="#ff7f7f" stroke-width="1.45"/>
<path d="M518.7 255.2L520.28 257.9L517.12 257.9ZM533.2 248.2L534.78 250.9L531.62 250.9ZM547.9 249.3L549.48 252L546.32 252ZM547.2 269.5L548.78 272.2L545.62 272.2ZM561.1 270.4L562.68 273.1L559.52 273.1ZM570.5 273.3L572.08 276L568.92 276ZM573.4 271.8L574.98 274.5L571.82 274.5ZM615.2 263.2L616.78 265.9L613.62 265.9ZM621.4 273.7L622.98 276.4L619.82 276.4ZM589.5 282.5L591.08 285.2L587.92 285.2ZM520.8 286.1L522.38 288.8L519.22 288.8ZM523 285.7L524.58 288.4L521.42 288.4ZM536.6 280.7L538.18 283.4L535.02 283.4ZM543.25 281.85L544.83 284.55L541.67 284.55ZM541.4 288.3L542.98 291L539.82 291ZM543.6 290L545.18 292.7L542.02 292.7ZM553.1 288.35L554.67 291.05L551.52 291.05ZM542.5 309.3L544.08 312L540.92 312ZM546.8 279.2L548.38 281.9L545.22 281.9ZM567.8 284.4L569.38 287.1L566.22 287.1ZM579.3 284L580.88 286.7L577.72 286.7ZM585.4 290.1L586.98 292.8L583.82 292.8ZM584.7 292.1L586.28 294.8L583.12 294.8ZM583.4 294.1L584.98 296.8L581.82 296.8ZM580.7 295.2L582.28 297.9L579.12 297.9ZM584 297.9L585.58 300.6L582.42 300.6ZM573.9 298.6L575.48 301.3L572.32 301.3ZM577.7 299.8L579.28 302.5L576.12 302.5ZM601.6 300.05L603.18 302.75L600.02 302.75ZM606.25 304.55L607.83 307.25L604.67 307.25ZM610.8 286.6L612.38 289.3L609.22 289.3ZM619.9 292.7L621.48 295.4L618.32 295.4ZM622.8 293.2L624.38 295.9L621.22 295.9ZM615.2 298.9L616.78 301.6L613.62 301.6ZM613.3 306.5L614.88 309.2L611.72 309.2ZM645 309.4L646.58 312.1L643.42 312.1Z" fill="#ff7f7f"/>
<circle cx="549.2" cy="288.8" r="1.35"/>
<circle cx="542" cy="297" r="1.35"/>
<circle cx="576.6" cy="287.5" r="1.35"/>
<circle cx="580.7" cy="294" r="1.35"/>
<circle cx="575.9" cy="295.9" r="1.35"/>
<circle cx="574.6" cy="298.1" r="1.35"/>
<circle cx="590.1" cy="297.6" r="1.35"/>
<circle cx="596.9" cy="299.7" r="1.35"/>
<circle cx="581.3" cy="301.3" r="1.35"/>
<circle cx="549.5" cy="302.4" r="1.35"/>
<circle cx="559.6" cy="304.8" r="1.35"/>
<circle cx="561" cy="306.2" r="1.35"/>
<circle cx="568.7" cy="305.5" r="1.35"/>
<circle cx="583.1" cy="304" r="1.35"/>
<circle cx="584" cy="306.7" r="1.35"/>
<circle cx="575.5" cy="307.8" r="1.35"/>
<circle cx="583.1" cy="310.5" r="1.35"/>
<circle cx="590.8" cy="308.9" r="1.35"/>
<circle cx="593.5" cy="307.1" r="1.35"/>
<circle cx="594.9" cy="308.1" r="1.35"/>
<circle cx="598.3" cy="308.5" r="1.35"/>
<circle cx="601" cy="309.2" r="1.35"/>
<circle cx="559.6" cy="310.1" r="1.35"/>
<circle cx="558.7" cy="311.2" r="1.35"/>
<circle cx="556.1" cy="312" r="1.35"/>
<circle cx="559.2" cy="313.9" r="1.35"/>
<circle cx="551.5" cy="316.3" r="1.35"/>
<circle cx="586.1" cy="317" r="1.35"/>
<circle cx="596.6" cy="322.3" r="1.35"/>
<circle cx="600.7" cy="326.4" r="1.35"/>
<circle cx="570.9" cy="324.1" r="1.35"/>
<circle cx="609.4" cy="305.8" r="1.35"/>
<circle cx="630.9" cy="276.1" r="1.35"/>
<circle cx="630.4" cy="297" r="1.35"/>
<circle cx="636.1" cy="296.1" r="1.35"/>
<circle cx="640.4" cy="298.3" r="1.35"/>
<circle cx="638" cy="301.7" r="1.35"/>
<circle cx="625.6" cy="298" r="1.35"/>
<circle cx="619.5" cy="299.8" r="1.35"/>
<circle cx="623.1" cy="300.2" r="1.35"/>
<circle cx="621.3" cy="303.6" r="1.35"/>
<circle cx="612.3" cy="304" r="1.35"/>
<circle cx="628.5" cy="305.2" r="1.35"/>
<circle cx="627.5" cy="310.7" r="1.35"/>
<circle cx="612.7" cy="313.1" r="1.35"/>
<circle cx="619" cy="315.4" r="1.35"/>
<circle cx="621.8" cy="322.6" r="1.35"/>
<circle cx="626.6" cy="321.3" r="1.35"/>
<circle cx="631.3" cy="323" r="1.35"/>
<circle cx="663.6" cy="311.2" r="1.35"/>
<circle cx="538.6" cy="285.9" r="1.35"/>
<circle cx="519.3" cy="293.7" r="1.35"/>
<circle cx="511.7" cy="301.1" r="1.35"/>
<circle cx="532.7" cy="302" r="1.35"/>
<circle cx="518" cy="306.5" r="1.35"/>
<circle cx="515" cy="312.6" r="1.35"/></g>
</svg>
</body></html>
